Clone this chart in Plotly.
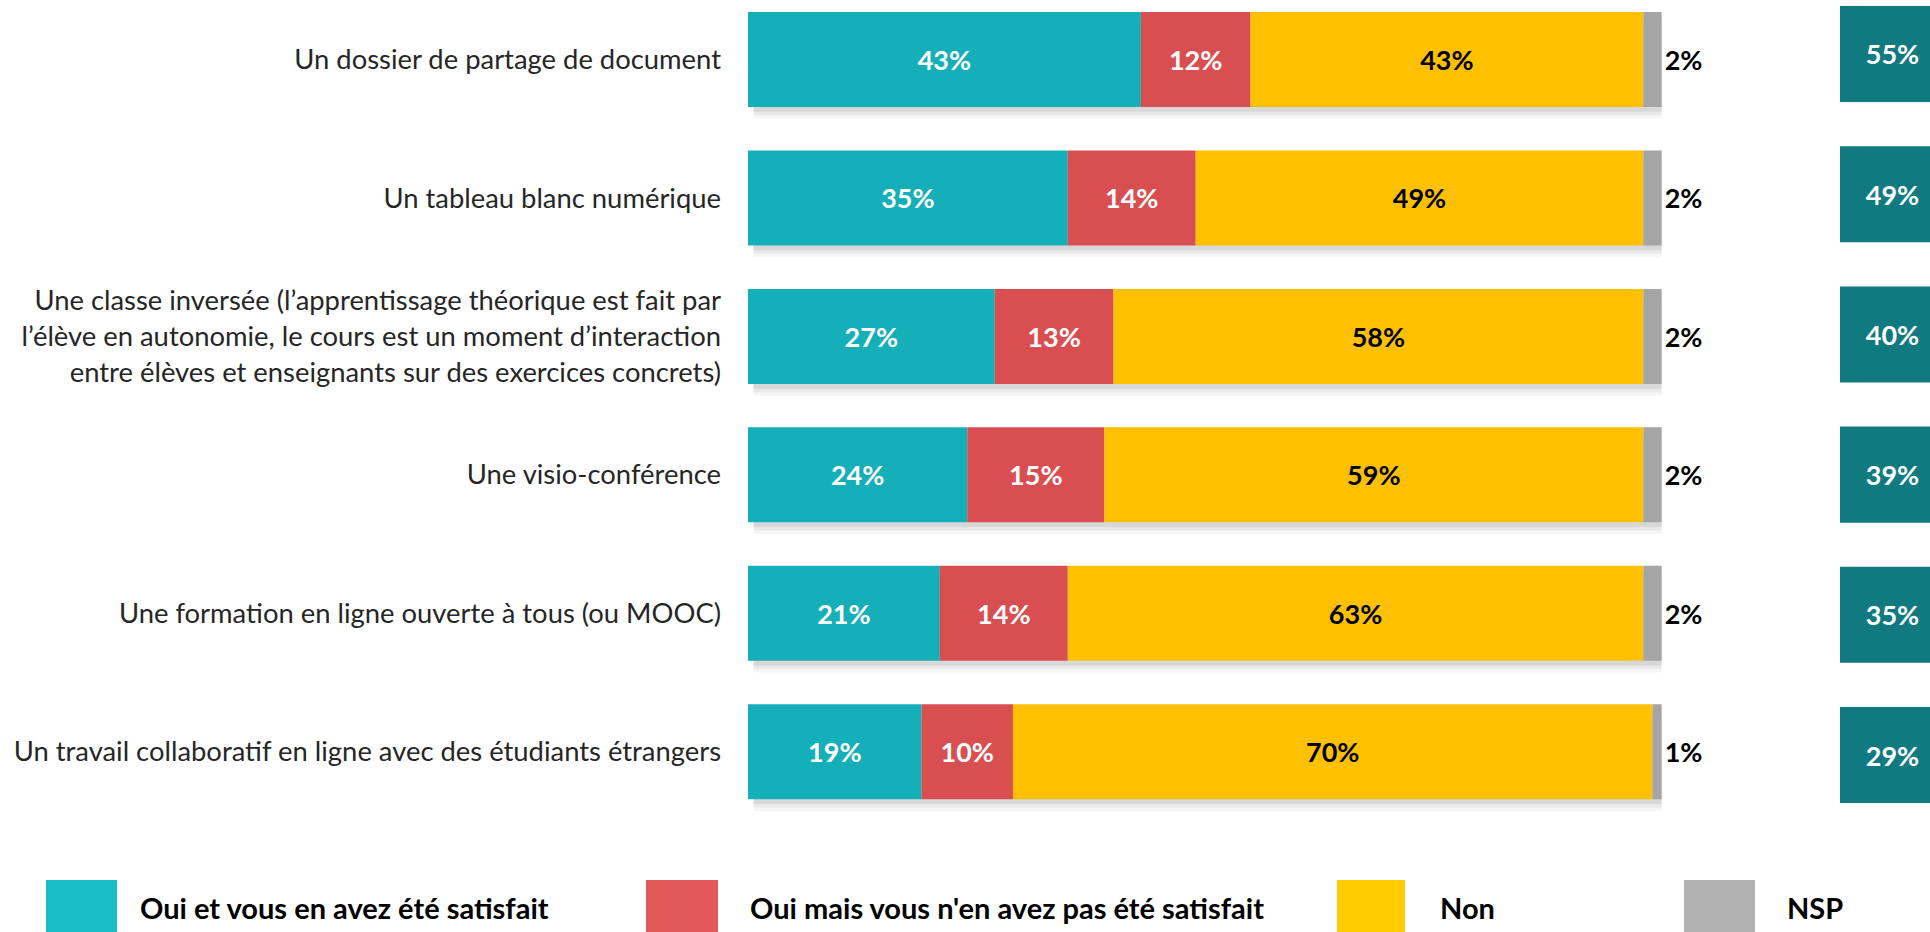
import plotly.graph_objects as go

categories = [
    "Un dossier de partage de document",
    "Un tableau blanc numérique",
    "Une classe inversée (l’apprentissage théorique est fait par<br>l’élève en autonomie, le cours est un moment d’interaction<br>entre élèves et enseignants sur des exercices concrets)",
    "Une visio-conférence",
    "Une formation en ligne ouverte à tous (ou MOOC)",
    "Un travail collaboratif en ligne avec des étudiants étrangers",
]
oui_satisfait = [43, 35, 27, 24, 21, 19]
oui_non_satisfait = [12, 14, 13, 15, 14, 10]
non = [43, 49, 58, 59, 63, 70]
nsp = [2, 2, 2, 2, 2, 1]
total_oui = [55, 49, 40, 39, 35, 29]
series_names = [
    "Oui et vous en avez été satisfait",
    "Oui mais vous n'en avez pas été satisfait",
    "Non",
    "NSP",
]

FONT = "Lato"
W, H = 1930, 932
L, R, T, B = 748, 0, 0, 100
PW = W - L - R
PH = H - T - B


def px(x):
    return (x - L) / PW


def py(y):
    return (H - B - y) / PH


bar_colors = ["#14AFB8", "#D94F51", "#FFC000", "#A5A5A5"]
legend_colors = ["#19BDC6", "#E35959", "#FFCC00", "#B2B2B2"]
text_colors = ["white", "white", "black", "black"]
series = [oui_satisfait, oui_non_satisfait, non, nsp]

bases = []
acc = [0] * len(categories)
for s in series:
    bases.append(list(acc))
    acc = [a + v for a, v in zip(acc, s)]
totals = acc

w = 0.686
fig = go.Figure()

# soft drop shadow
for off, alpha in [(0.085, 0.035), (0.06, 0.05), (0.035, 0.07)]:
    fig.add_trace(go.Bar(
        y=categories, x=[t - 0.6 for t in totals], base=[0.6] * len(totals),
        orientation="h", width=w, offset=-w / 2 + off,
        marker=dict(color=f"rgba(0,0,0,{alpha})", line=dict(width=0)),
        hoverinfo="skip", showlegend=False,
    ))

for i, s in enumerate(series):
    fig.add_trace(go.Bar(
        y=categories, x=s, base=bases[i], orientation="h",
        name=series_names[i], width=w, offset=-w / 2,
        marker=dict(color=bar_colors[i], line=dict(width=0)),
        text=[f"{v}%" for v in s],
        textposition="outside" if i == 3 else "inside",
        insidetextanchor="middle",
        constraintext="none",
        cliponaxis=False,
        textfont=dict(family=FONT, size=27, weight="bold", color=text_colors[i]),
        showlegend=False,
    ))

wb = 0.685
fig.add_trace(go.Bar(
    y=categories, x=[1] * len(categories), orientation="h",
    xaxis="x2", yaxis="y2", width=wb,
    marker=dict(color="#107A80", line=dict(width=0)),
    text=[f"{v}%" for v in total_oui], textposition="inside",
    insidetextanchor="middle", constraintext="none",
    textfont=dict(family=FONT, size=27, weight="bold", color="white"),
    showlegend=False,
))

shapes = []
annotations = []
leg_sq = [(46, 117), (646, 718), (1337, 1405), (1684, 1755)]
leg_tx = [138, 748, 1438, 1785]
for i in range(4):
    x0, x1 = leg_sq[i]
    shapes.append(dict(type="rect", xref="paper", yref="paper",
                       x0=px(x0), x1=px(x1), y0=py(880), y1=py(945),
                       fillcolor=legend_colors[i], line=dict(width=0), layer="above"))
    annotations.append(dict(xref="paper", yref="paper", x=px(leg_tx[i]), y=py(908),
                            xanchor="left", yanchor="middle", showarrow=False,
                            text=series_names[i],
                            font=dict(family=FONT, size=29, weight="bold", color="black")))

fig.update_layout(
    width=W, height=H,
    margin=dict(l=L, r=R, t=T, b=B, pad=0),
    paper_bgcolor="white", plot_bgcolor="white",
    barmode="overlay", showlegend=False,
    font=dict(family=FONT, size=27, color="#262626"),
    xaxis=dict(domain=[0, 1005 / PW], range=[0, 110], visible=False, fixedrange=True),
    yaxis=dict(type="category", categoryorder="array", categoryarray=categories,
               range=[5.58, -0.43], autorange=False, ticks="", showgrid=False,
               zeroline=False, showline=False, ticklabelstandoff=26,
               tickfont=dict(family=FONT, size=27.4, color="#262626")),
    xaxis2=dict(domain=[px(1840), 1], range=[0, 90 / 105], anchor="y2",
                visible=False, fixedrange=True),
    yaxis2=dict(type="category", categoryorder="array", categoryarray=categories,
                range=[5.549, -0.385], autorange=False, anchor="x2", visible=False),
    shapes=shapes, annotations=annotations,
)

fig.write_html(
    "out.html",
    config={"displayModeBar": False},
    post_script="document.body.style.margin='0';document.body.style.overflow='hidden';",
)
